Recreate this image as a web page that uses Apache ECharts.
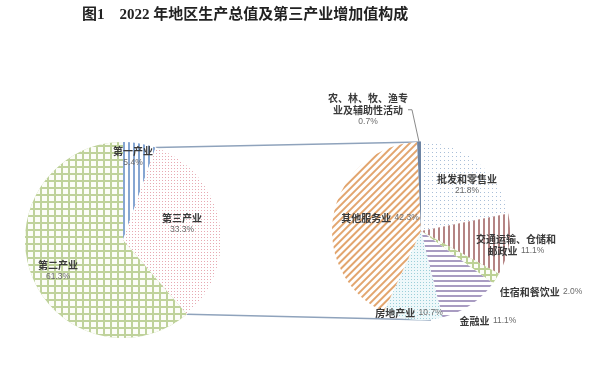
<!DOCTYPE html>
<html><head><meta charset="utf-8">
<script src="https://cdn.jsdelivr.net/npm/echarts@6/dist/echarts.min.js"></script>
<style>html,body{margin:0;padding:0;background:#fff}#c{width:600px;height:372px}</style>
</head><body><div id="c"></div>
<script>
// ---- data ----
const titleText = '图1    2022 年地区生产总值及第三产业增加值构成';
const gdpNames = ['第一产业', '第三产业', '第二产业'];
const gdpValues = [5.4, 33.3, 61.3];
const tertiaryNames = ['批发和零售业', '交通运输、仓储和\n邮政业', '住宿和餐饮业', '金融业', '房地产业', '其他服务业', '农、林、牧、渔专\n业及辅助性活动'];
const tertiaryValues = [21.8, 11.1, 2.0, 11.1, 10.7, 42.3, 0.7];

// ---- layout / style ----
const leftCenter = [123, 240], leftR = 98;
const rightCenter = [421, 231], rightR = 89;
// percent on its own line (true) or after last name line (false)
const leftPctBreak = [true, true, true];
const rightPctBreak = [true, false, false, false, false, false, true];
const leftLabelPos = [[133, 157], [182, 224], [58, 271]];
const rightLabelPos = [[467, 185], [516, 245], [541, 292], [488, 321], [409, 313], [380, 218], [368, 110]];

function stripes(color, rot, w, gap) {
  return { symbol: 'rect', symbolSize: 1, color: color, dashArrayX: [1, 0], dashArrayY: [w, gap], rotation: rot };
}
function dots(color, s, gap) {
  return { symbol: 'rect', symbolSize: 1, color: color, dashArrayX: [s, gap], dashArrayY: [s, gap] };
}
function grid(squareColor, cell, line) {
  return { symbol: 'rect', symbolSize: 1, color: squareColor, dashArrayX: [cell, line], dashArrayY: [cell, line] };
}
const leftStyles = [
  { color: '#ffffff', decal: stripes('#86a6d2', Math.PI / 2, 1.3, 2.4) },
  { color: '#ffffff', decal: dots('#e7a9b2', 1, 1.6) },
  { color: '#bfd29b', decal: grid('#fcfdf8', 5, 1.2) }
];
const rightStyles = [
  { color: '#ffffff', decal: dots('#a9bfd9', 1, 2.6) },
  { color: '#ffffff', decal: stripes('#b58585', Math.PI / 2, 1.2, 3) },
  { color: '#bcd195', decal: grid('#fcfdf8', 4, 1.2) },
  { color: '#ffffff', decal: stripes('#a99cc2', 0, 1.3, 2.8) },
  { color: '#eef8fa', decal: dots('#9ccfd9', 1, 1.2) },
  { color: '#ffffff', decal: stripes('#e2a56e', -Math.PI / 4, 2, 2.4) },
  { color: '#6d84a3' }
];

function fmtLabel(name, val, brk) {
  const lines = name.split('\n').map(function (l) { return '{n|' + l + '}'; });
  const pct = '{p|' + val.toFixed(1) + '%}';
  if (brk) return lines.join('\n') + '\n' + pct;
  lines[lines.length - 1] += ' ' + pct;
  return lines.join('\n');
}
const rich = {
  n: { fontSize: 10, fontWeight: 'bold', color: '#3a3a3a', lineHeight: 12, fontFamily: 'Noto Sans CJK SC' },
  p: { fontSize: 8.5, color: '#6a6a6a', lineHeight: 12, fontFamily: 'Liberation Sans' }
};

function buildData(names, values, styles, brks, isRight) {
  return names.map(function (n, i) {
    const item = {
      name: n, value: values[i], itemStyle: styles[i],
      label: { formatter: fmtLabel(n, values[i], brks[i]) }
    };
    if (isRight && i === names.length - 1) {
      item.label.position = 'outside';
      item.labelLine = { show: true, length: 6, length2: 4, smooth: false, lineStyle: { color: '#8a8a8a', width: 1 } };
    }
    return item;
  });
}

function sum(a) { return a.reduce(function (s, v) { return s + v; }, 0); }
function ptAt(center, r, frac) {
  const a = frac * 2 * Math.PI;
  return [center[0] + r * Math.sin(a), center[1] - r * Math.cos(a)];
}
const tot = sum(gdpValues);
const p1 = ptAt(leftCenter, leftR, gdpValues[0] / tot);
const p2 = ptAt(leftCenter, leftR, (gdpValues[0] + gdpValues[1]) / tot);
const q1 = [rightCenter[0], rightCenter[1] - rightR];
const q2 = [rightCenter[0] + 10, rightCenter[1] + rightR];

const chart = echarts.init(document.getElementById('c'), null, { renderer: 'canvas' });
const labelBase = { show: true, position: 'inside', rich: rich, align: 'center' };
chart.setOption({
  animation: false,
  backgroundColor: '#ffffff',
  title: {
    text: titleText, left: 77, top: 3,
    textStyle: { fontSize: 15, fontWeight: 'bold', color: '#222', fontFamily: 'Liberation Serif, Noto Sans CJK SC' }
  },
  graphic: [
    { type: 'line', z: 0, shape: { x1: p1[0], y1: p1[1], x2: q1[0], y2: q1[1] }, style: { stroke: '#8fa3bc', lineWidth: 1.5 } },
    { type: 'line', z: 0, shape: { x1: p2[0], y1: p2[1], x2: q2[0], y2: q2[1] }, style: { stroke: '#8fa3bc', lineWidth: 1.5 } }
  ],
  series: [
    {
      type: 'pie', center: leftCenter, radius: leftR, startAngle: 90, clockwise: true,
      silent: true, label: labelBase, labelLine: { show: false },
      emphasis: { disabled: true },
      data: buildData(gdpNames, gdpValues, leftStyles, leftPctBreak, false),
      labelLayout: function (p) {
        const pos = leftLabelPos[p.dataIndex];
        return { x: pos[0], y: pos[1], align: 'center', verticalAlign: 'middle' };
      }
    },
    {
      type: 'pie', center: rightCenter, radius: rightR, startAngle: 90, clockwise: true,
      silent: true, label: labelBase, labelLine: { show: false },
      emphasis: { disabled: true },
      data: buildData(tertiaryNames, tertiaryValues, rightStyles, rightPctBreak, true),
      labelLayout: function (p) {
        const pos = rightLabelPos[p.dataIndex];
        return { x: pos[0], y: pos[1], align: 'center', verticalAlign: 'middle' };
      }
    }
  ]
});
</script></body></html>
